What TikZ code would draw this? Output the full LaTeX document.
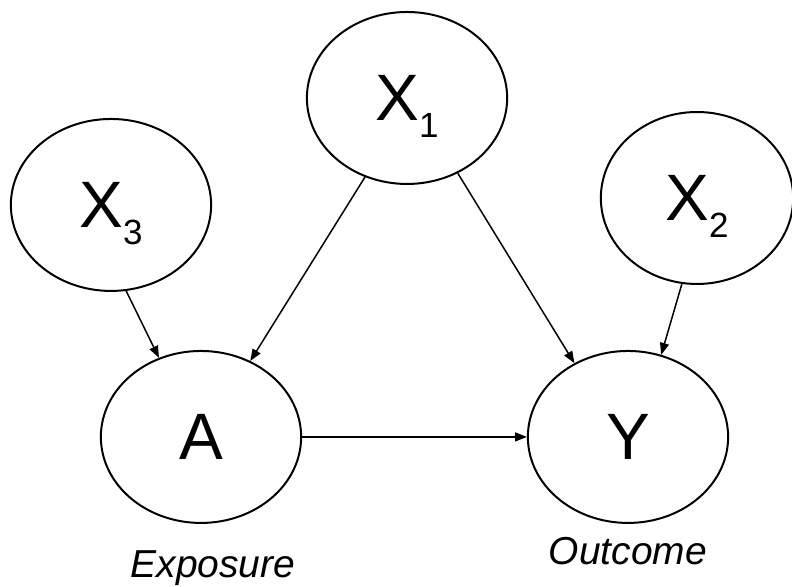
\documentclass[tikz,border=0pt]{standalone}
\usepackage{fontspec}
\setmainfont{Liberation Sans}
\usepackage{tikz}
\usetikzlibrary{shapes.geometric, arrows.meta}
\tikzset{
	varnode/.style = {
		draw,
		ellipse,
		line width=1pt,
		minimum width=3.54cm,
		minimum height=3.04cm,
		inner sep=0pt,
		font=\fontsize{33}{36}\selectfont
	},
	link/.style = {
		-{Triangle[length=0.21cm,width=0.16cm]},
		line width=0.75pt
	},
	caption/.style = {
		anchor=base,
		font=\fontsize{19.6}{22}\selectfont\itshape
	}
}
\newcommand{\subidx}[1]{\raisebox{-0.3cm}[0pt][0pt]{\fontsize{17.6}{18}\selectfont #1}}

\begin{document}
\begin{tikzpicture}
	\useasboundingbox (0,0) rectangle (14,10.376);
	\node[varnode] (X1) at (7.195,8.644) {X\subidx{1}};
	\node[varnode] (X3) at (1.962,6.753) {X\subidx{3}};
	\node[varnode, minimum width=3.4cm] (X2) at (12.321,6.876) {X\subidx{2}};
	\node[varnode] (A) at (3.553,2.652) {A};
	\node[varnode] (Y) at (11.101,2.652) {Y};

	\draw[link] (X3.-80) -- (A.118);
	\draw[link] (X1.242) -- (A.57);
	\draw[link] (X1.-56) -- (Y.126);
	\draw[link] (X2.-100) -- (Y.68);
	\draw[link] (A.east) -- (Y.west);

	\node[caption] (expo) at (3.765,0.159) {Exposure};
	\node[caption] (outc) at (11.101,0.389) {Outcome};
\end{tikzpicture}
\end{document}
